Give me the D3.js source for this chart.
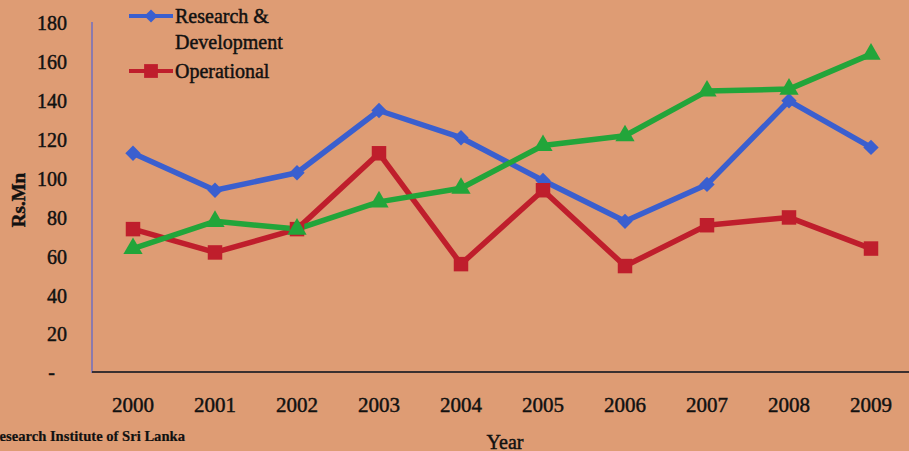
<!DOCTYPE html>
<html>
<head>
<meta charset="utf-8">
<script src="https://cdn.jsdelivr.net/npm/d3@7"></script>
<style>
html,body{margin:0;padding:0;background:#DE9C74;}
svg{display:block;}
text{stroke:#111;stroke-width:0.45px;}
</style>
</head>
<body>
<svg id="chart" width="909" height="451"></svg>
<script>
const years = ["2000","2001","2002","2003","2004","2005","2006","2007","2008","2009"];
const researchDev = [113, 94, 103, 135, 121, 99, 78, 97, 140, 116];
const operational = [74, 62, 74, 113, 56, 94, 55, 76, 80, 64];
const total = [64, 78, 74, 88, 95, 117, 122, 145, 146, 164];
const yTicks = [0, 20, 40, 60, 80, 100, 120, 140, 160, 180];
const legendLabels = [["Research &", "Development"], ["Operational"]];

(function () {
const svg = d3.select("#chart");
const W = 909, H = 451;
svg.append("rect").attr("width", W).attr("height", H).attr("fill", "#DE9C74");

const mLeft = 92, mRight = 912, mTop = 23, mBottom = 373;
const x = d3.scaleBand().domain(years).range([mLeft, mRight]).paddingInner(0).paddingOuter(0);
const xc = d => x(d) + x.bandwidth() / 2;
const y = d3.scaleLinear().domain([0, 180]).range([mBottom, mTop]);

const font = "'Liberation Serif','Times New Roman',serif";

// y axis
const yAxis = d3.axisLeft(y).tickValues(yTicks).tickSize(0).tickPadding(0)
  .tickFormat(d => d === 0 ? "-" : d);
const gy = svg.append("g").attr("transform", `translate(${mLeft},0)`).call(yAxis);
gy.select(".domain").remove();
gy.selectAll("text").attr("x", -25).attr("dy", "0.34em").attr("text-anchor", "end")
  .style("font-family", font).style("font-size", "20px").attr("fill", "#111");
gy.selectAll("text").filter(d => d === 0).attr("x", -37).attr("dy", "0.25em");
svg.append("line").attr("x1", mLeft).attr("x2", mLeft).attr("y1", y(180) - 1).attr("y2", mBottom)
  .attr("stroke", "#6F6FC0").attr("stroke-width", 1.5);

// x axis
const xAxis = d3.axisBottom(x).tickSize(0).tickPadding(0);
const gx = svg.append("g").attr("transform", `translate(0,${mBottom})`).call(xAxis);
gx.select(".domain").remove();
gx.selectAll("text").attr("y", 39).attr("dy", "0").style("font-family", font)
  .style("font-size", "21px").attr("fill", "#111");
svg.append("line").attr("x1", mLeft).attr("x2", W).attr("y1", mBottom - 1).attr("y2", mBottom - 1)
  .attr("stroke", "#3a3030").attr("stroke-width", 1.8);

// axis titles
svg.append("text").attr("transform", "translate(25,200) rotate(-90)")
  .attr("text-anchor", "middle").style("font-family", font).style("font-size", "19px")
  .style("font-weight", "bold").attr("fill", "#111").text("Rs.Mn");
svg.append("text").attr("x", 505).attr("y", 449).attr("text-anchor", "middle")
  .style("font-family", font).style("font-size", "20px").attr("fill", "#111").text("Year");
svg.append("text").attr("x", -11).attr("y", 441)
  .style("font-family", font).style("font-size", "14.6px").style("font-weight", "bold")
  .attr("fill", "#111").style("stroke-width", "0.2px").text("Research Institute of Sri Lanka");

// series
const series = [
  { vals: researchDev, color: "#3A5FCF", shape: d3.symbolDiamond2, size: 150 },
  { vals: operational, color: "#BF1E2C", shape: d3.symbolSquare, size: 210 },
  { vals: total, color: "#22A53A", shape: d3.symbolTriangle, size: 160 }
];
const line = d3.line().x((d, i) => xc(years[i])).y(d => y(d));

series.forEach(s => {
  svg.append("path").datum(s.vals).attr("d", line).attr("fill", "none")
    .attr("stroke", s.color).attr("stroke-width", 5.5).attr("stroke-linejoin", "round");
});
series.forEach(s => {
  svg.append("g").selectAll("path").data(s.vals).join("path")
    .attr("transform", (d, i) => `translate(${xc(years[i])},${y(d)})`)
    .attr("d", d3.symbol().type(s.shape).size(s.size)).attr("fill", s.color);
});

// legend
const leg = [
  { color: "#3A5FCF", shape: d3.symbolDiamond2, size: 110, y: 16, labels: legendLabels[0] },
  { color: "#BF1E2C", shape: d3.symbolSquare, size: 190, y: 71, labels: legendLabels[1] }
];
leg.forEach(l => {
  svg.append("line").attr("x1", 129).attr("x2", 173).attr("y1", l.y).attr("y2", l.y)
    .attr("stroke", l.color).attr("stroke-width", 4);
  svg.append("path").attr("transform", `translate(151,${l.y})`)
    .attr("d", d3.symbol().type(l.shape).size(l.size)).attr("fill", l.color);
  l.labels.forEach((t, j) => {
    svg.append("text").attr("x", 175).attr("y", l.y + 7 + j * 26)
      .style("font-family", font).style("font-size", "20px").attr("fill", "#111").text(t);
  });
});
})();
</script>
</body>
</html>
